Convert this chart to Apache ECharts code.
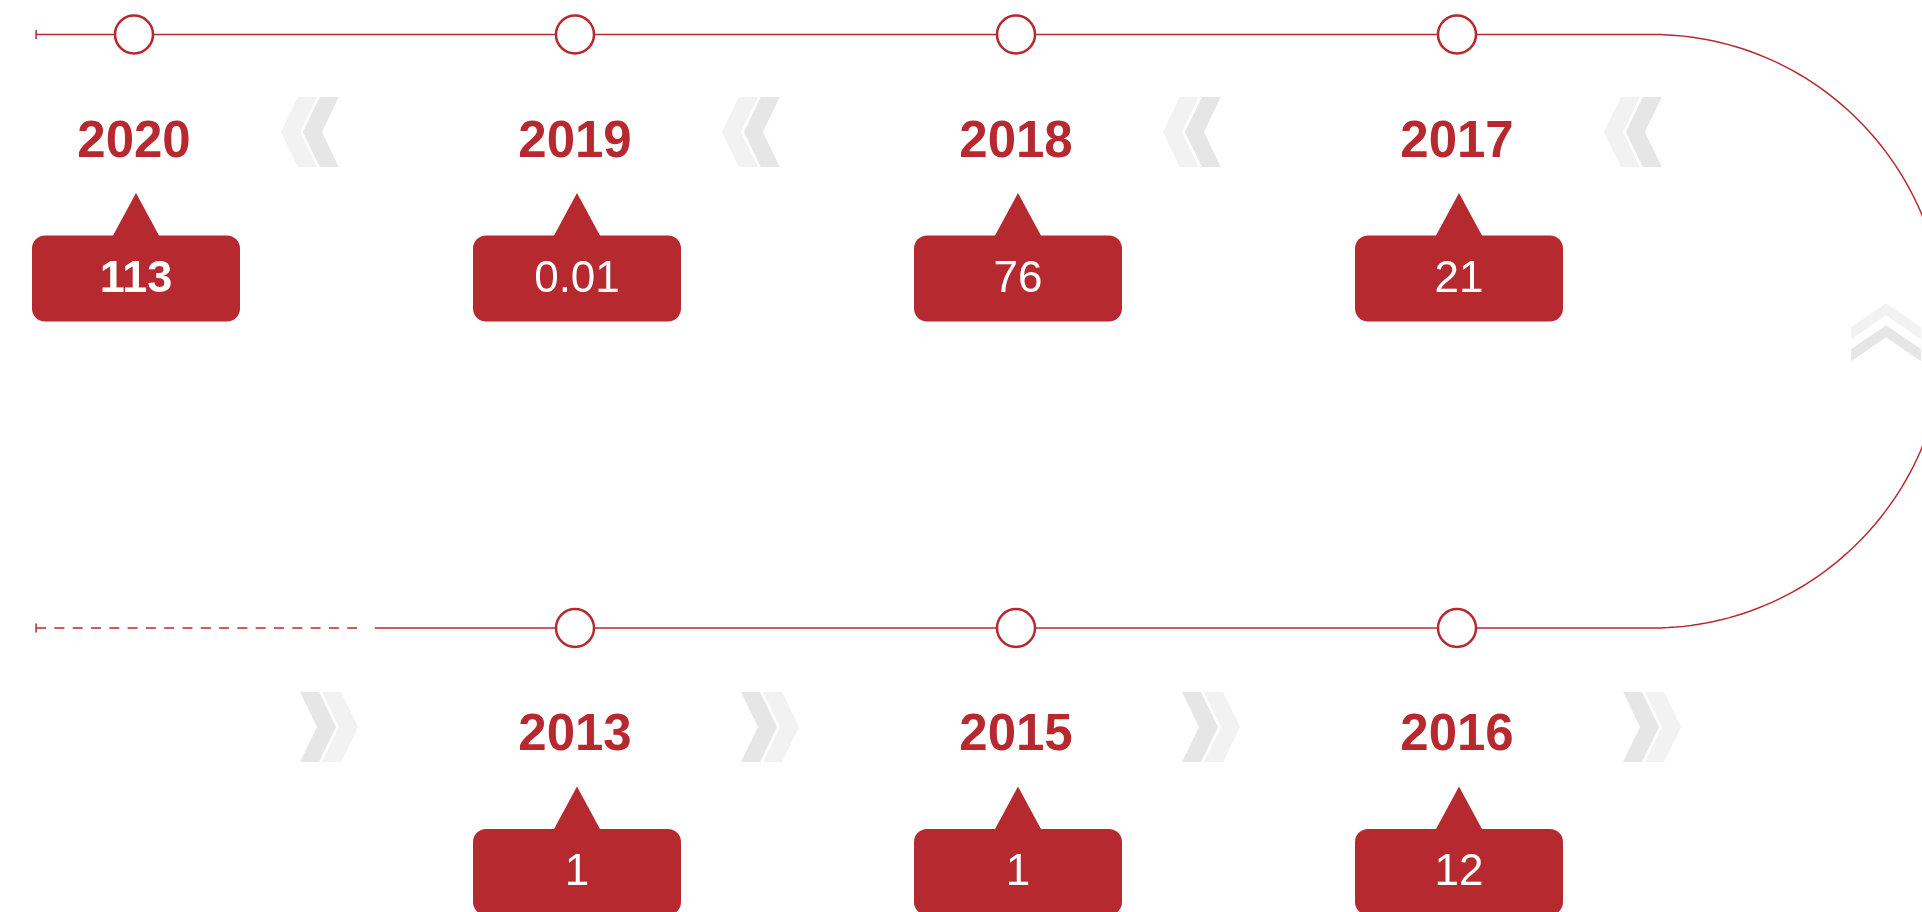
<!DOCTYPE html>
<html>
<head>
<meta charset="utf-8">
<title>timeline</title>
<script src="https://cdn.jsdelivr.net/npm/echarts@6/dist/echarts.min.js"></script>
<style>
  html, body { margin: 0; padding: 0; background: #fff; }
  #main { width: 1922px; height: 912px; }
</style>
</head>
<body>
<div id="main"></div>
<script>
// milestones, in the order they sit along the track
const years = ['2020', '2019', '2018', '2017', '2016', '2015', '2013']
const values = [113, 0.01, 76, 21, 12, 1, 1]
// slot along the row and row index (0 = top, 1 = bottom)
const slots = [0, 1, 2, 3, 3, 2, 1]
const rows = [0, 0, 0, 0, 1, 1, 1]
// the latest year is shown in bold
const highlight = [true, false, false, false, false, false, false]

const RED = '#b6292f'
const LIGHT = '#f2f2f2'
const DARK = '#e6e6e6'
const FONT = '"Liberation Sans", Arial, Helvetica, sans-serif'

// track geometry in axis units
const TRACK_START = -0.222
const TRACK_TURN = 3.444
const DASH_END = 0.506
const SOLID_START = 0.546

const chevron = (tx, ty, dir, d, s, t) => {
  const ux = dir[0], uy = dir[1]
  const px = -uy, py = ux
  const pt = (a, b) => [tx - ux * a + px * b, ty - uy * a + py * b]
  return [pt(d, -s), pt(0, 0), pt(d, s), pt(d + t, s), pt(t, 0), pt(d + t, -s)]
}

const renderTrack = (params, api) => {
  const p0 = api.coord([TRACK_START, 0])
  const p1 = api.coord([TRACK_TURN, 0])
  const q0 = api.coord([TRACK_START, 1])
  const q1 = api.coord([TRACK_TURN, 1])
  const qs = api.coord([SOLID_START, 1])
  const qd = api.coord([DASH_END, 1])
  const ry = (q1[1] - p1[1]) / 2
  const rx = ry * 0.986
  const cy = p1[1] + ry
  const arc = []
  for (let i = 0; i <= 120; i++) {
    const a = -Math.PI / 2 + Math.PI * i / 120
    arc.push([p1[0] + rx * Math.cos(a), cy + ry * Math.sin(a)])
  }
  const line = { stroke: RED, lineWidth: 1.5, fill: 'none' }
  return {
    type: 'group',
    children: [
      { type: 'polyline', shape: { points: [p0].concat(arc).concat([qs]) }, style: line },
      { type: 'line', shape: { x1: q0[0], y1: q0[1], x2: qd[0], y2: qd[1] }, style: Object.assign({}, line, { lineDash: [10, 8.3] }) },
      { type: 'line', shape: { x1: p0[0], y1: p0[1] - 4.5, x2: p0[0], y2: p0[1] + 4.5 }, style: line },
      { type: 'line', shape: { x1: q0[0], y1: q0[1] - 4.5, x2: q0[0], y2: q0[1] + 4.5 }, style: line }
    ]
  }
}

const renderChevron = (params, api) => {
  const kind = api.value(2)
  const c = api.coord([api.value(0), api.value(1)])
  let dir, d, s, t, tip
  if (kind === 0) { dir = [-1, 0]; d = 17; s = 35; t = 19; tip = [c[0], c[1] + 97.5] }
  else if (kind === 1) { dir = [1, 0]; d = 17; s = 35; t = 19; tip = [c[0], c[1] + 99] }
  else { dir = [0, -1]; d = 24; s = 35; t = 12; tip = [c[0], c[1] - 28] }
  const back = 22
  return {
    type: 'group',
    children: [
      { type: 'polygon', shape: { points: chevron(tip[0] - dir[0] * back, tip[1] - dir[1] * back, dir, d, s, t) }, style: { fill: DARK } },
      { type: 'polygon', shape: { points: chevron(tip[0], tip[1], dir, d, s, t) }, style: { fill: LIGHT } }
    ]
  }
}

const renderMilestone = (params, api) => {
  const i = params.dataIndex
  const p = api.coord([api.value(0), api.value(1)])
  const x = p[0], y = p[1]
  const bx = x + 2
  const boxTop = y + 201
  return {
    type: 'group',
    children: [
      { type: 'circle', shape: { cx: x, cy: y, r: 19 }, style: { fill: '#fff', stroke: RED, lineWidth: 2.5 } },
      { type: 'text', style: { text: years[i], x: x, y: y + 108, align: 'center', verticalAlign: 'middle', fill: RED, font: 'bold 51px ' + FONT } },
      { type: 'polygon', shape: { points: [[bx, y + 158.5], [bx - 23.5, boxTop + 1], [bx + 23.5, boxTop + 1]] }, style: { fill: RED } },
      { type: 'rect', shape: { x: bx - 104, y: boxTop, width: 208, height: 86, r: 13 }, style: { fill: RED } },
      { type: 'text', style: { text: String(api.value(2)), x: bx, y: boxTop + 44, align: 'center', verticalAlign: 'middle', fill: '#fff', font: (highlight[i] ? 'bold 45px ' : '44px ') + FONT } }
    ]
  }
}

const chevronData = [0, 1, 2, 3].map(k => [k + 0.333, 0, 0])
  .concat([0, 1, 2, 3].map(k => [k + 0.508, 1, 1]))
  .concat([[3.973, 0.5, 2]])

const milestoneData = years.map((yr, i) => [slots[i], rows[i], values[i]])

const chart = echarts.init(document.getElementById('main'))
chart.setOption({
  animation: false,
  backgroundColor: '#fff',
  grid: { left: 0, right: 0, top: 0, bottom: 0 },
  xAxis: { type: 'value', min: -0.30385, max: 4.05443, show: false },
  yAxis: { type: 'value', inverse: true, min: -0.05813, max: 1.47852, show: false },
  series: [
    { type: 'custom', renderItem: renderChevron, data: chevronData, silent: true },
    { type: 'custom', renderItem: renderTrack, data: [[0, 0]], silent: true },
    { type: 'custom', renderItem: renderMilestone, data: milestoneData }
  ]
})
</script>
</body>
</html>
